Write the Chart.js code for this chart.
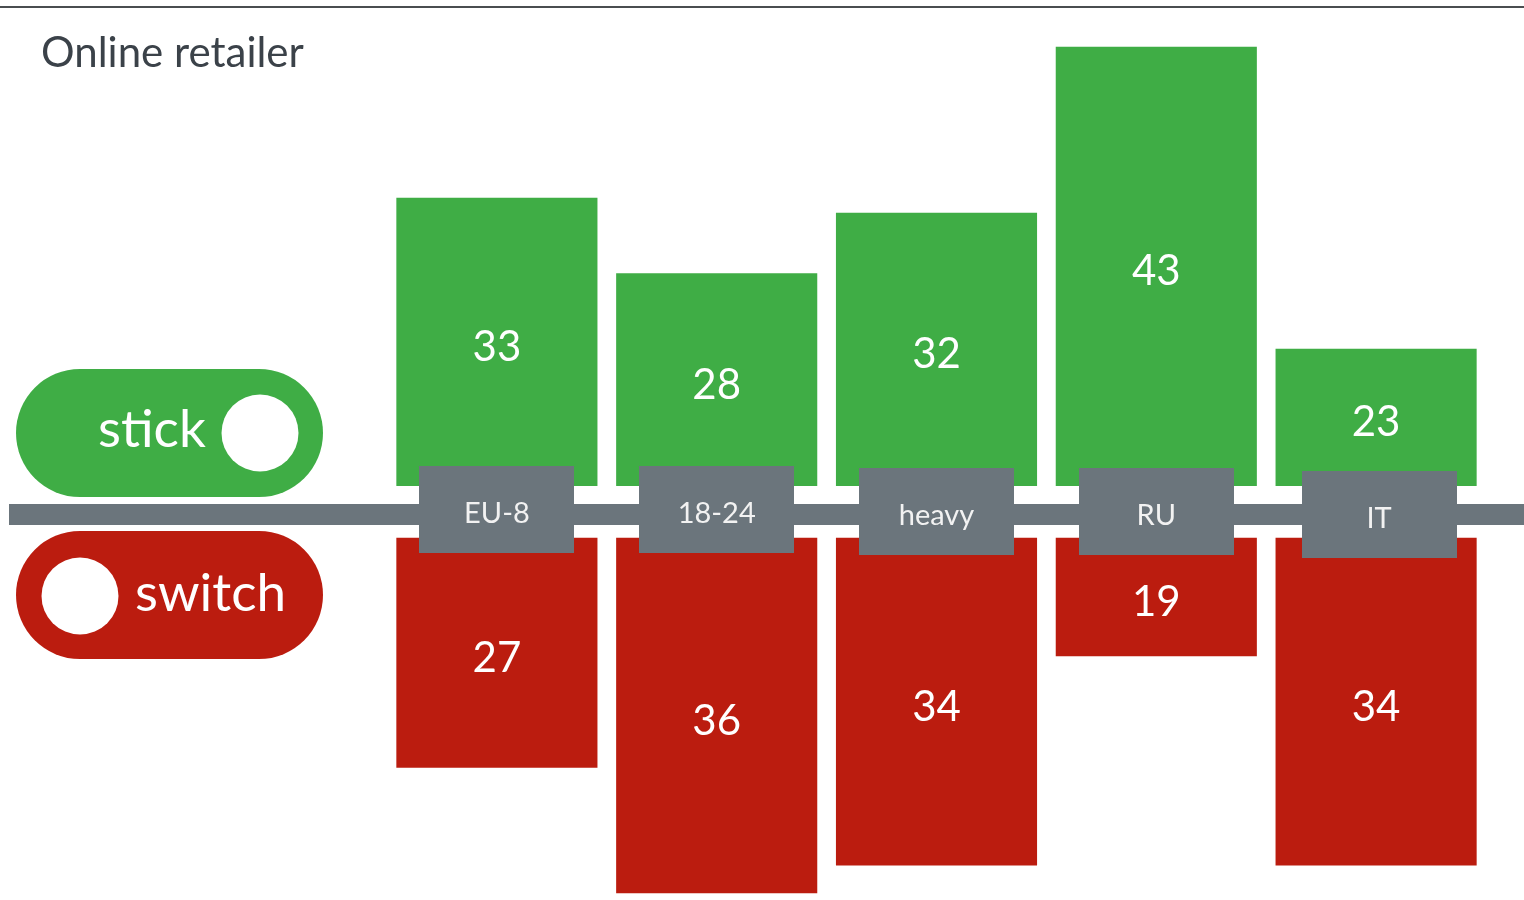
<!DOCTYPE html>
<html>
<head>
<meta charset="utf-8">
<script src="https://cdn.jsdelivr.net/npm/chart.js@4/dist/chart.umd.min.js"></script>
<style>
  html, body { margin: 0; padding: 0; background: #ffffff; }
  #wrap { position: relative; width: 1524px; height: 900px; }
</style>
</head>
<body>
<div id="wrap"><canvas id="c"></canvas></div>
<script>
// ---- data ----
const title = 'Online retailer';
const categories = ['EU-8', '18-24', 'heavy', 'RU', 'IT'];
const seriesNames = ['stick', 'switch'];
const stickValues = [33, 28, 32, 43, 23];
const switchValues = [27, 36, 34, 19, 34];

// ---- style ----
const GREEN = '#3fad45';
const RED = '#bb1c0f';
const GREY = '#6b757c';
const FONT = 'Lato, "Open Sans", sans-serif';
// small hand-placement nudges of the category boxes (style only)
const boxNudgeX = [0, 0, 0, 0, 3];
const boxNudgeY = [-1, -1, 1, 1, 4];

const decor = {
  id: 'decor',
  beforeDatasetsDraw(chart) {
    const ctx = chart.ctx;
    ctx.save();
    // top rule
    ctx.fillStyle = '#4a4d50';
    ctx.fillRect(0, 6, 1524, 2);
    // horizontal band
    ctx.fillStyle = GREY;
    ctx.fillRect(9, 504, 1515, 21);
    // title
    ctx.fillStyle = '#3b4249';
    ctx.font = '42px ' + FONT;
    ctx.textAlign = 'left';
    ctx.textBaseline = 'alphabetic';
    ctx.fillText(title, 41, 67);
    // toggle pills (legend)
    const pill = (x, y, w, h, color) => {
      const r = h / 2;
      ctx.beginPath();
      ctx.moveTo(x + r, y);
      ctx.lineTo(x + w - r, y);
      ctx.arc(x + w - r, y + r, r, -Math.PI / 2, Math.PI / 2);
      ctx.lineTo(x + r, y + h);
      ctx.arc(x + r, y + r, r, Math.PI / 2, Math.PI * 1.5);
      ctx.closePath();
      ctx.fillStyle = color;
      ctx.fill();
    };
    const ds = chart.data.datasets;
    pill(16, 369, 307, 128, ds[0].backgroundColor);
    pill(16, 531, 307, 128, ds[1].backgroundColor);
    ctx.fillStyle = '#ffffff';
    ctx.beginPath(); ctx.arc(260, 433, 38.5, 0, Math.PI * 2); ctx.fill();
    ctx.beginPath(); ctx.arc(80, 596, 38.5, 0, Math.PI * 2); ctx.fill();
    ctx.font = '53px ' + FONT;
    ctx.textAlign = 'left';
    ctx.fillText(ds[0].label, 98, 447);
    ctx.fillText(ds[1].label, 135, 611);
    ctx.restore();
  },
  afterDatasetsDraw(chart) {
    const ctx = chart.ctx;
    ctx.save();
    // value labels
    ctx.fillStyle = '#ffffff';
    ctx.font = '42px ' + FONT;
    ctx.textAlign = 'center';
    ctx.textBaseline = 'alphabetic';
    chart.data.datasets.forEach((d, di) => {
      const meta = chart.getDatasetMeta(di);
      meta.data.forEach((el, i) => {
        const p = el.getProps(['x', 'y', 'base'], true);
        const cy = (p.y + p.base) / 2;
        ctx.fillText(String(d.data[i]), p.x, cy + 19);
      });
    });
    // category boxes
    const xs = chart.scales.x;
    ctx.font = '29px ' + FONT;
    categories.forEach((c, i) => {
      const x = xs.getPixelForValue(i) + boxNudgeX[i];
      const top = 467 + boxNudgeY[i];
      ctx.fillStyle = GREY;
      ctx.fillRect(Math.round(x - 77.5), top, 155, 87);
      ctx.fillStyle = '#f2f2f2';
      ctx.fillText(c, x, top + 57);
    });
    ctx.restore();
  }
};

new Chart(document.getElementById('c'), {
  type: 'bar',
  data: {
    labels: categories,
    datasets: [
      {
        label: seriesNames[0],
        data: stickValues,
        yAxisID: 'yStick',
        base: 13.9,
        backgroundColor: GREEN,
        borderWidth: 0,
        grouped: false,
        categoryPercentage: 1,
        barPercentage: 0.915
      },
      {
        label: seriesNames[1],
        data: switchValues,
        yAxisID: 'ySwitch',
        base: 10.5,
        backgroundColor: RED,
        borderWidth: 0,
        grouped: false,
        categoryPercentage: 1,
        barPercentage: 0.915
      }
    ]
  },
  options: {
    responsive: true,
    maintainAspectRatio: false,
    devicePixelRatio: 1,
    animation: false,
    layout: { padding: { left: 387, right: 38, top: 0, bottom: 0 } },
    plugins: { legend: { display: false }, title: { display: false }, tooltip: { enabled: false } },
    scales: {
      x: { type: 'category', display: false, offset: true, grid: { display: false } },
      yStick: { type: 'linear', display: false, min: -13.51, max: 46.09, grid: { display: false } },
      ySwitch: { type: 'linear', display: false, reverse: true, min: -28.08, max: 36.48, grid: { display: false } }
    }
  },
  plugins: [decor]
});
</script>
</body>
</html>
